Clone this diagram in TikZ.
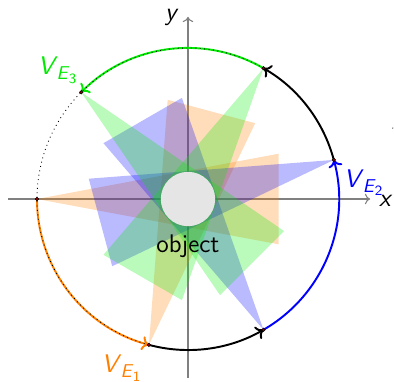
\documentclass[tikz,border=0pt]{standalone}
\usetikzlibrary{arrows.meta,calc}
\definecolor{vorange}{RGB}{255,128,0}
\definecolor{vgreen}{RGB}{0,235,0}
\definecolor{vblue}{RGB}{0,0,255}
\newcommand\VEsub[1]{\textit{V}\kern-0.5pt\raisebox{-0.45ex}{\fontsize{10.5}{12}\selectfont\textit{E}\kern-0.3pt\raisebox{-0.4ex}{\fontsize{8}{9}\selectfont #1}}}
\begin{document}
\begin{tikzpicture}[
  font=\sffamily\fontsize{14.4}{16}\selectfont,
  axis/.style={gray, line width=0.6pt, -{To[length=3pt,width=6pt]}},
  cone/.style={opacity=0.27},
  trail/.style={line width=1.1pt, -{To[length=4pt,width=8pt]}},
  campt/.style={circle, fill=red!60!black, draw=black, line width=0.3pt, inner sep=0pt, minimum size=2pt},
  objcirc/.style={circle, fill=gray!20, draw=none, minimum size=1.08cm, inner sep=0pt}
]
\useasboundingbox (-3.735,-3.616) rectangle (4.093,3.954);
% axes
\coordinate (xs) at (-3.58,0);
\coordinate (xe) at (3.62,0);
\coordinate (ys) at (0,-3.55);
\coordinate (ye) at (0,3.62);
\draw[axis] (xs) -- (xe);
\draw[axis] (ys) -- (ye);
\node (xl) at (3.93,-0.03) {\textit{x}};
\node[inner sep=1pt] (yl) at (-0.32,3.6) {\textit{y}};
% camera positions
\foreach \n/\a in {c0/180,c1/255,c2/300,c3/15,c4/60,c5/135}{
  \coordinate (\n) at (\a:3);
}
% view cones
\foreach \a/\c in {180/vorange,255/vorange,300/vblue,15/vblue,60/vgreen,135/vgreen}{
  \fill[\c, cone] (\a:3) -- ($(\a:-1.8)+(\a+90:0.9)$) -- ($(\a:-1.8)+(\a-90:0.9)$) -- cycle;
}
% object
\node[objcirc] (obj) at (0,0) {};
\node (objl) at (0,-0.93) {object};
% trajectory arcs
\draw[trail, vorange] (c0) arc[start angle=180, end angle=255, radius=3];
\draw[trail, black] (c1) arc[start angle=255, end angle=300, radius=3];
\draw[trail, vblue] (c2) arc[start angle=300, end angle=375, radius=3];
\draw[trail, black] (c3) arc[start angle=15, end angle=60, radius=3];
\draw[trail, vgreen] (c4) arc[start angle=60, end angle=135, radius=3];
\draw[black, dotted, line width=0.5pt] (c4) arc[start angle=60, end angle=255, radius=3];
% camera points
\foreach \n in {c0,c1,c2,c3,c4,c5}{
  \node[campt] at (\n) {};
}
% labels
\node[vgreen] (l3) at (-2.6,2.56) {\VEsub{3}};
\node[vblue] (l2) at (3.48,0.32) {\VEsub{2}};
\node[vorange] (l1) at (-1.33,-3.36) {\VEsub{1}};
\fill (4.07,1.41) circle (0.012);
\end{tikzpicture}
\end{document}
